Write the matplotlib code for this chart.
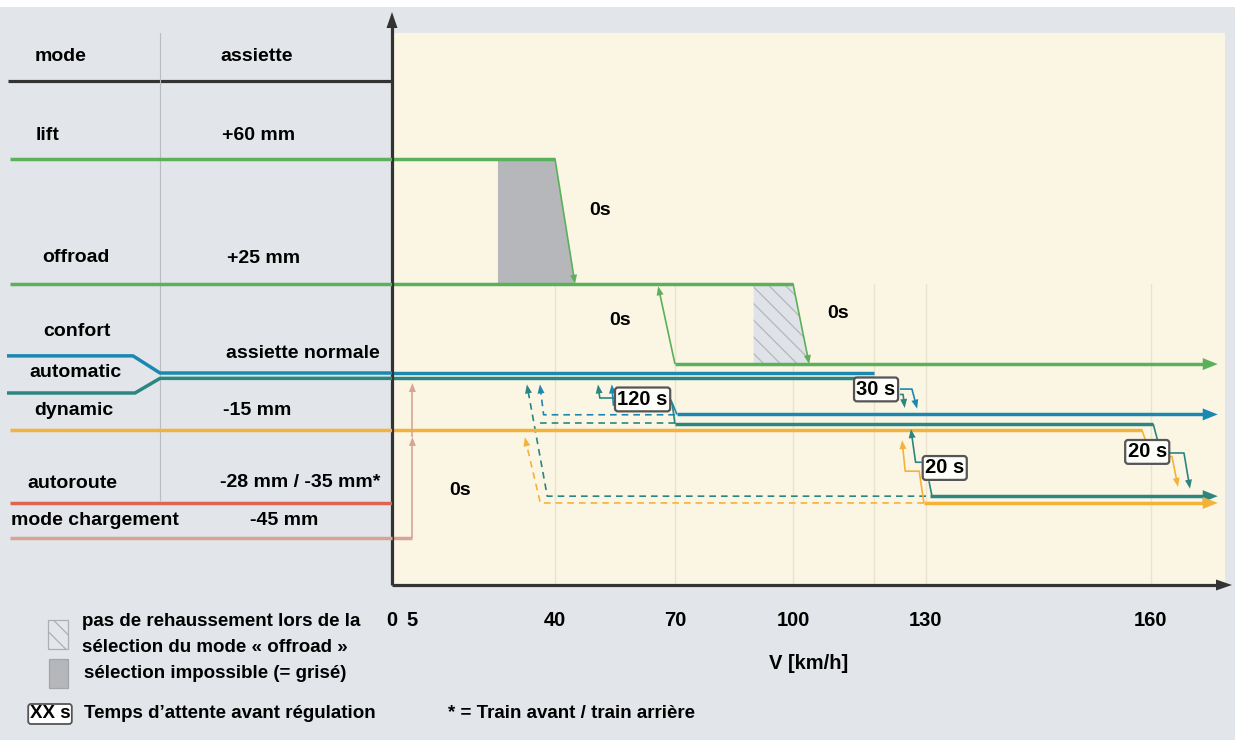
import numpy as np
import matplotlib.pyplot as plt
from matplotlib.patches import Polygon, Rectangle

plt.rcParams['font.family'] = ['Liberation Sans', 'DejaVu Sans']
plt.rcParams['font.weight'] = 'bold'
plt.rcParams['hatch.linewidth'] = 0.9

# ---------------------------------------------------------------- data
speed_ticks = [0, 5, 40, 70, 100, 130, 160]
grid_speeds = [40, 70, 100, 120, 130, 160]

modes = ['lift', 'offroad', 'confort', 'automatic', 'dynamic', 'autoroute', 'mode chargement']
assiettes = ['+60 mm', '+25 mm', 'assiette normale', '-15 mm', '-28 mm / -35 mm*', '-45 mm']

# ride height levels (mm) as drawn
lvl_lift, lvl_offroad, lvl_dyn, lvl_auto, lvl_charge = 60, 25, -16, -36.4, -46.2

# paths: speed km/h, assiette mm
lift_v, lift_mm = [0, 40], [60, 60]
lift_dn_v, lift_dn_mm = [40, 45], [60, 25]
off_v, off_mm = [0, 100], [25, 25]
off_dn_v, off_dn_mm = [100, 104], [25, 2.5]
norm_v, norm_mm = [70, 168.9], [2.5, 2.5]
norm_up_v, norm_up_mm = [70, 65.8], [2.5, 24.3]
grey_v, grey_mm = [26, 40, 45, 26], [60, 60, 25, 25]
hatch_v, hatch_mm = [90, 100, 104, 90], [25, 25, 2.5, 2.5]

conf_v, conf_mm = [0, 120], [0, 0]
autom_v, autom_mm = [0, 120], [-1.5, -1.5]
conf30_v, conf30_mm = [125, 127.3, 128.3], [-4.5, -4.5, -10.0]
autom30_v, autom30_mm = [125, 125.6, 125.9], [-6.0, -6.0, -9.8]

conf15_v, conf15_mm = [70.5, 168.9], [-11.6, -11.6]
conf120_out_v, conf120_out_mm = [68, 69, 70.5], [-7.6, -7.6, -11.6]
autom120_out_v, autom120_out_mm = [68, 69.3, 70], [-8.6, -8.6, -14.3]
autom15_v, autom15_mm = [70, 160.3], [-14.3, -14.3]
autom15_dn_v, autom15_dn_mm = [160.3, 160.9], [-14.3, -19]
autom120_in_v, autom120_in_mm = [57, 51.2, 50.75], [-7, -7, -3.2]
conf120_in_v, conf120_in_mm = [57, 54.6, 54.2], [-9, -9, -3.2]

conf_ret_v, conf_ret_mm = [70, 37.2, 36.3], [-11.7, -11.7, -3.2]
autom_ret1_v, autom_ret1_mm = [70, 35.5], [-14.1, -14.1]
autom_ret2_v, autom_ret2_mm = [130, 38.1, 33.1], [-34.5, -34.5, -3.2]
dyn_ret_v, dyn_ret_mm = [129.6, 36.4, 32.6], [-36.4, -36.4, -18]

dyn_v, dyn_mm = [0, 158.8], [-16, -16]
dyn_dn_v, dyn_dn_mm = [158.8, 159.3], [-16, -19]
autom20_out_v, autom20_out_mm = [162.4, 164.4, 165.2], [-22.4, -22.4, -32.4]
dyn20_out_v, dyn20_out_mm = [162.4, 162.8, 163.6], [-23.4, -23.4, -31.9]
autom_ar_v, autom_ar_mm = [130.6, 168.9], [-34.5, -34.5]
dyn_ar_v, dyn_ar_mm = [129.6, 168.9], [-36.4, -36.4]
autom_box_dn_v, autom_box_dn_mm = [130.4, 130.8], [-30.3, -34.5]
autom_box_up_v, autom_box_up_mm = [129.2, 128.0, 127.1], [-25, -25, -15.7]
dyn_up_v, dyn_up_mm = [129.6, 128.7, 126.0, 125.4], [-36.4, -27.5, -27.5, -18.8]

charge_v, charge_mm = [0, 5], [-46.2, -46.2]
charge_up1_v, charge_up1_mm = [5, 5], [-46.2, -17.9]
charge_up2_v, charge_up2_mm = [5, 5], [-17.9, -2.8]

# wait-time boxes: label, speed, mm
boxes = [('120 s', 61.9, -7.4), ('30 s', 120.4, -4.6), ('20 s', 132.5, -26.6), ('20 s', 159.5, -22.1)]
zero_labels = [(51.2, 45.4), (56.2, 14.8), (111.1, 16.8), (16.7, -32.8)]

# ---------------------------------------------------------------- style
BG = '#e2e6ea'
BEIGE = '#fbf5e4'
GREEN = '#5bb05a'
BLUE = '#1b88b2'
TEAL = '#2b867f'
ORANGE = '#f5b23a'
RED = '#de6650'
SALMON = '#d8a595'
GREY = '#b5b7ba'
DARK = '#333333'
LW, LT = 2.5, 1.2
BIG, SMALL = (15, 12), (9, 7)

# piecewise speed axis of the original drawing
KV = [0, 40, 70, 100, 120, 130, 160]
KU = [0, 163, 283, 401, 482, 534, 759]


def fwd(v):
    v = np.asarray(v, float)
    u = np.interp(v, KV, KU)
    u = np.where(v > 160, 759 + (v - 160) * 7.5, u)
    return np.where(v < 0, v * 4.075, u)


def inv(u):
    u = np.asarray(u, float)
    v = np.interp(u, KU, KV)
    v = np.where(u > 759, 160 + (u - 759) / 7.5, v)
    return np.where(u < 0, u / 4.075, v)


fig = plt.figure(figsize=(12.35, 7.4), dpi=100, facecolor=BG)
W, H = 1235, 740
ax = fig.add_axes([392 / W, (H - 585) / H, (1225 - 392) / W, (585 - 33) / H])
ax.set_xscale('function', functions=(fwd, inv))
ax.set_xlim(0, 169.87)
ax.set_ylim(-59.38, 95.24)
ax.set_facecolor(BEIGE)
for s in ax.spines.values():
    s.set_visible(False)
ax.set_yticks([])
ax.set_xticks(speed_ticks)
ax.set_xticklabels([str(t) for t in speed_ticks], fontsize=14.5, fontweight='bold')
ax.tick_params(axis='x', length=0, pad=19)
ax.minorticks_off()
ax.set_xlabel('V [km/h]', fontsize=14.5, fontweight='bold', labelpad=17)

for g in grid_speeds:
    ax.plot([g, g], [-59.38, 25], color='#ebe3cd', lw=1, zorder=0.5)


def path(axis, xs, ys, color, lw, ls='-', head=None, z=3, trans=None):
    trans = trans or axis.transData
    pts = trans.transform(np.column_stack([xs, ys]))
    if head:
        hl, hw = head
        d = pts[-1] - pts[-2]
        d = d / np.hypot(*d)
        tip = pts[-1].copy()
        base = tip - d * hl
        nrm = np.array([-d[1], d[0]])
        tri = np.array([tip, base + nrm * hw / 2, base - nrm * hw / 2])
        pts[-1] = tip - d * hl * 0.6
        axis.add_patch(Polygon(trans.inverted().transform(tri), closed=True, fc=color,
                               ec='none', zorder=z, clip_on=False, transform=trans))
    p = trans.inverted().transform(pts)
    axis.plot(p[:, 0], p[:, 1], color=color, lw=lw, ls=ls, zorder=z, clip_on=False,
              solid_capstyle='butt', transform=trans)


# shaded zones
ax.add_patch(Polygon(np.column_stack([grey_v, grey_mm]), fc=GREY, ec='none', zorder=1))
ax.add_patch(Polygon(np.column_stack([hatch_v, hatch_mm]), fc='#dfe2e6', ec='#b3b8be',
                     lw=0, hatch='\\\\', zorder=1))

# green
path(ax, lift_v, lift_mm, GREEN, LW)
path(ax, lift_dn_v, lift_dn_mm, GREEN, LT, head=SMALL)
path(ax, off_v, off_mm, GREEN, LW)
path(ax, off_dn_v, off_dn_mm, GREEN, LT, head=SMALL)
path(ax, norm_v, norm_mm, GREEN, LW, head=BIG)
path(ax, norm_up_v, norm_up_mm, GREEN, LT, head=SMALL)

# dashed return paths
path(ax, conf_ret_v, conf_ret_mm, BLUE, LT, ls=(0, (4, 3)), head=SMALL)
path(ax, autom_ret1_v, autom_ret1_mm, TEAL, LT, ls=(0, (4, 3)))
path(ax, autom_ret2_v, autom_ret2_mm, TEAL, LT, ls=(0, (4, 3)), head=SMALL)
path(ax, dyn_ret_v, dyn_ret_mm, ORANGE, LT, ls=(0, (4, 3)), head=SMALL)

# confort / automatic / dynamic
path(ax, conf_v, conf_mm, BLUE, LW)
path(ax, autom_v, autom_mm, TEAL, LW)
path(ax, conf30_v, conf30_mm, BLUE, LT, head=SMALL)
path(ax, autom30_v, autom30_mm, TEAL, LT, head=SMALL)
path(ax, conf15_v, conf15_mm, BLUE, LW, head=BIG)
path(ax, conf120_out_v, conf120_out_mm, BLUE, LT)
path(ax, autom120_out_v, autom120_out_mm, TEAL, LT)
path(ax, autom15_v, autom15_mm, TEAL, LW)
path(ax, autom15_dn_v, autom15_dn_mm, TEAL, LT)
path(ax, autom120_in_v, autom120_in_mm, TEAL, LT, head=SMALL)
path(ax, conf120_in_v, conf120_in_mm, BLUE, LT, head=SMALL)
path(ax, dyn_v, dyn_mm, ORANGE, LW)
path(ax, dyn_dn_v, dyn_dn_mm, ORANGE, LT)
path(ax, autom20_out_v, autom20_out_mm, TEAL, LT, head=SMALL)
path(ax, dyn20_out_v, dyn20_out_mm, ORANGE, LT, head=SMALL)
path(ax, autom_ar_v, autom_ar_mm, TEAL, LW, head=BIG)
path(ax, dyn_ar_v, dyn_ar_mm, ORANGE, LW, head=BIG)
path(ax, autom_box_dn_v, autom_box_dn_mm, TEAL, LT)
path(ax, autom_box_up_v, autom_box_up_mm, TEAL, LT, head=SMALL)
path(ax, dyn_up_v, dyn_up_mm, ORANGE, LT, head=SMALL)

# chargement
path(ax, charge_v, charge_mm, SALMON, LW)
path(ax, charge_up1_v, charge_up1_mm, SALMON, LT, head=SMALL)
path(ax, charge_up2_v, charge_up2_mm, SALMON, LT, head=SMALL)

for txt, v, mm in boxes:
    ax.text(v, mm, txt, ha='center', va='center', fontsize=14.5, zorder=6,
            bbox=dict(boxstyle='round,pad=0.12,rounding_size=0.15', fc='#fdfdfa',
                      ec='#555555', lw=1.6))
for v, mm in zero_labels:
    ax.text(v, mm, '0s', ha='center', va='center', fontsize=14, zorder=6)

# axes arrows
path(ax, [0, 0], [0, 1.038], DARK, 2.3, head=(16, 11), z=7, trans=ax.transAxes)
path(ax, [0, 1.0084], [0, 0], DARK, 2.3, head=(16, 11), z=7, trans=ax.transAxes)

# ---------------------------------------------------------------- table
axl = fig.add_axes([0, (H - 585) / H, 392 / W, (585 - 33) / H])
axl.set_xlim(0, 392)
axl.set_ylim(ax.get_ylim())
axl.axis('off')

axl.plot([8, 392], [81.8, 81.8], color=DARK, lw=2.3, solid_capstyle='butt')
axl.plot([160, 160], [95.5, -35.6], color='#b9bdc1', lw=0.8)
axl.plot([10, 392], [lvl_lift] * 2, color=GREEN, lw=LW, solid_capstyle='butt')
axl.plot([10, 392], [lvl_offroad] * 2, color=GREEN, lw=LW, solid_capstyle='butt')
axl.plot([7, 133, 160, 392], [4.8, 4.8, 0, 0], color=BLUE, lw=LW, solid_capstyle='butt')
axl.plot([7, 135, 160, 392], [-5.6, -5.6, -1.5, -1.5], color=TEAL, lw=LW, solid_capstyle='butt')
axl.plot([10, 392], [lvl_dyn] * 2, color=ORANGE, lw=LW, solid_capstyle='butt')
axl.plot([10, 392], [lvl_auto] * 2, color=RED, lw=LW, solid_capstyle='butt')
axl.plot([10, 392], [lvl_charge] * 2, color=SALMON, lw=LW, solid_capstyle='butt', clip_on=False)

fs = 14
axl.text(35, 88.6, 'mode', fontsize=fs, va='center')
axl.text(220, 88.6, 'assiette', fontsize=fs, va='center')
mode_pos = [(36, 66.4), (42, 32.4), (43, 11.6), (29, 0.1), (34, -10.6), (27, -31.0), (11, -41.4)]
for name, (x, y) in zip(modes, mode_pos):
    axl.text(x, y, name, fontsize=fs, va='center')
ass_pos = [(222, 66.4), (227, 32.2), (226, 5.4), (223, -10.6), (220, -30.8), (250, -41.4)]
for lab, (x, y) in zip(assiettes, ass_pos):
    axl.text(x, y, lab, fontsize=fs, va='center')

# ---------------------------------------------------------------- legend
ov = fig.add_axes([0, 0, 1, 1])
ov.set_xlim(0, W)
ov.set_ylim(H, 0)
ov.axis('off')
ov.add_patch(Rectangle((0, 0), W, 7, fc='white', ec='none'))
ov.add_patch(Rectangle((48, 620), 20, 29, fc='#e4e6e9', ec='#aab0b6', lw=0.9, hatch='\\\\'))
ov.add_patch(Rectangle((49, 659), 19, 29, fc=GREY, ec='#a2a6aa', lw=0.9))
lf = 13.5
ov.text(82, 622, 'pas de rehaussement lors de la', fontsize=lf, va='center')
ov.text(82, 647, 'sélection du mode « offroad »', fontsize=lf, va='center')
ov.text(84, 673, 'sélection impossible (= grisé)', fontsize=lf, va='center')
ov.text(50, 714, 'XX s', fontsize=lf, va='center', ha='center',
        bbox=dict(boxstyle='round,pad=0.08,rounding_size=0.15', fc='white', ec='#555555', lw=1.3))
ov.text(84, 714, 'Temps d\u2019attente avant régulation', fontsize=lf, va='center')
ov.text(448, 714, '* = Train avant / train arrière', fontsize=lf, va='center')

fig.savefig('out.png', dpi=100, facecolor=BG)
